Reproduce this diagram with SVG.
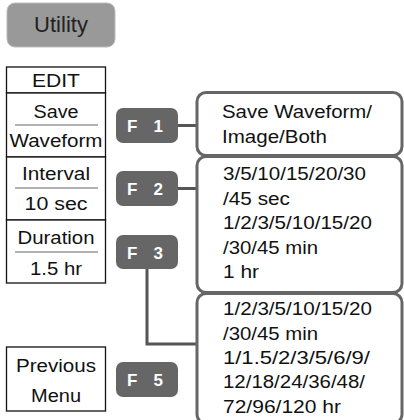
<svg xmlns="http://www.w3.org/2000/svg" width="404" height="420" viewBox="0 0 404 420">
<style>
.t{font-family:"Liberation Sans",Arial,sans-serif;font-size:18.7px;fill:#111}
.m{text-anchor:middle}
.cell{fill:#fff;stroke:#111;stroke-width:1.3}
.sep{stroke:#999;stroke-width:1.5}
.fb{fill:#666}
.ft{font-family:"Liberation Sans",Arial,sans-serif;font-size:17px;font-weight:bold;fill:#fff}
.box{fill:#fff;stroke:#666;stroke-width:3}
.con{fill:none;stroke:#555;stroke-width:3}
</style>
<rect width="404" height="420" fill="#fff"/>
<g id="utility">
<rect x="7" y="3" width="108" height="44" rx="8" fill="#999" stroke="#bbb" stroke-width="1"/>
<text x="61" y="32" class="m" style="font-family:'Liberation Sans',Arial,sans-serif;font-size:22px;fill:#222">Utility</text>
</g>
<g id="menu">
<rect class="cell" x="6.5" y="67" width="99" height="26"/>
<text class="t m" x="56" y="87" textLength="48" lengthAdjust="spacingAndGlyphs">EDIT</text>
<rect class="cell" x="6.5" y="93" width="99" height="64"/>
<line class="sep" x1="15" y1="125" x2="98" y2="125"/>
<text class="t m" x="56" y="118" textLength="45" lengthAdjust="spacingAndGlyphs">Save</text>
<text class="t m" x="56" y="147" textLength="93" lengthAdjust="spacingAndGlyphs">Waveform</text>
<rect class="cell" x="6.5" y="157" width="99" height="63"/>
<line class="sep" x1="15" y1="188" x2="98" y2="188"/>
<text class="t m" x="56" y="180" textLength="68" lengthAdjust="spacingAndGlyphs">Interval</text>
<text class="t m" x="56" y="210" textLength="63" lengthAdjust="spacingAndGlyphs">10 sec</text>
<rect class="cell" x="6.5" y="220" width="99" height="63"/>
<line class="sep" x1="15" y1="252" x2="98" y2="252"/>
<text class="t m" x="56" y="244" textLength="77" lengthAdjust="spacingAndGlyphs">Duration</text>
<text class="t m" x="56" y="275" textLength="52" lengthAdjust="spacingAndGlyphs">1.5 hr</text>
<rect class="cell" x="6.5" y="347" width="99" height="64"/>
<text class="t m" x="56" y="372" textLength="80" lengthAdjust="spacingAndGlyphs">Previous</text>
<text class="t m" x="56" y="402" textLength="50" lengthAdjust="spacingAndGlyphs">Menu</text>
</g>
<g id="connectors">
<line class="con" x1="178" y1="125.5" x2="197" y2="125.5"/>
<line class="con" x1="178" y1="188.5" x2="197" y2="188.5"/>
<polyline class="con" points="147,268 147,344 197,344"/>
</g>
<g id="f1">
<rect class="fb" x="116" y="108" width="62" height="35" rx="7"/>
<text class="ft" x="127" y="132" textLength="36" lengthAdjust="spacing">F 1</text>
</g>
<g id="f2">
<rect class="fb" x="116" y="171" width="62" height="35" rx="7"/>
<text class="ft" x="127" y="195" textLength="36" lengthAdjust="spacing">F 2</text>
</g>
<g id="f3">
<rect class="fb" x="116" y="235" width="62" height="34" rx="7"/>
<text class="ft" x="127" y="258.5" textLength="36" lengthAdjust="spacing">F 3</text>
</g>
<g id="f5">
<rect class="fb" x="116" y="362" width="62" height="35" rx="7"/>
<text class="ft" x="127" y="386" textLength="36" lengthAdjust="spacing">F 5</text>
</g>
<g id="box1">
<rect class="box" x="197" y="92.5" width="205" height="63" rx="9"/>
<text class="t" x="222" y="117.7" textLength="150" lengthAdjust="spacingAndGlyphs">Save Waveform/</text>
<text class="t" x="222" y="142.7" textLength="105" lengthAdjust="spacingAndGlyphs">Image/Both</text>
</g>
<g id="box2">
<rect class="box" x="197" y="156.5" width="205" height="136" rx="9"/>
<text class="t" x="223" y="180" textLength="143" lengthAdjust="spacingAndGlyphs">3/5/10/15/20/30</text>
<text class="t" x="223" y="205" textLength="67" lengthAdjust="spacingAndGlyphs">/45 sec</text>
<text class="t" x="223" y="229" textLength="149" lengthAdjust="spacingAndGlyphs">1/2/3/5/10/15/20</text>
<text class="t" x="223" y="254" textLength="95" lengthAdjust="spacingAndGlyphs">/30/45 min</text>
<text class="t" x="223" y="278" textLength="36" lengthAdjust="spacingAndGlyphs">1 hr</text>
</g>
<g id="box3">
<rect class="box" x="197" y="293.5" width="205" height="130" rx="9"/>
<text class="t" x="223" y="315" textLength="149" lengthAdjust="spacingAndGlyphs">1/2/3/5/10/15/20</text>
<text class="t" x="223" y="340" textLength="95" lengthAdjust="spacingAndGlyphs">/30/45 min</text>
<text class="t" x="223" y="363.5" textLength="147" lengthAdjust="spacingAndGlyphs">1/1.5/2/3/5/6/9/</text>
<text class="t" x="223" y="388" textLength="142" lengthAdjust="spacingAndGlyphs">12/18/24/36/48/</text>
<text class="t" x="223" y="413" textLength="118" lengthAdjust="spacingAndGlyphs">72/96/120 hr</text>
</g>
</svg>
